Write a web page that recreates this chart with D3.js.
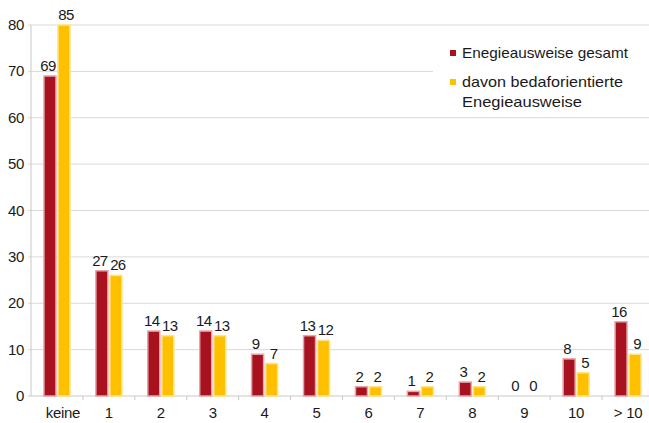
<!DOCTYPE html>
<html>
<head>
<meta charset="utf-8">
<script src="https://cdn.jsdelivr.net/npm/d3@7"></script>
<style>
  body { margin: 0; background: #fff; }
  svg text { font-family: "Liberation Sans", Arial, sans-serif; fill: #1a1a1a; }
</style>
</head>
<body>
<div id="vis"></div>
<script>

var categories = ['keine', '1', '2', '3', '4', '5', '6', '7', '8', '9', '10', '> 10'];
var gesamt = [69, 27, 14, 14, 9, 13, 2, 1, 3, 0, 8, 16];
var bedarf = [85, 26, 13, 13, 7, 12, 2, 2, 2, 0, 5, 9];
var yTicks = [0, 10, 20, 30, 40, 50, 60, 70, 80];
var seriesNames = ['Enegieausweise gesamt', 'davon bedaforientierte Enegieausweise'];

var width = 649, height = 423;
var margin = { top: 25, left: 31, bottom: 27 };
var yMax = 80;

var svg = d3.select('#vis').append('svg')
  .attr('width', width)
  .attr('height', height);

var x = d3.scaleBand()
  .domain(categories)
  .range([margin.left, 654]);

var y = d3.scaleLinear()
  .domain([0, yMax])
  .range([height - margin.bottom, margin.top]);

var series = [
  { name: seriesNames[0], values: gesamt, fill: '#a8121f', stroke: '#e6a3a8', offset: -13, labelShift: -2 },
  { name: seriesNames[1], values: bedarf, fill: '#ffc000', stroke: '#ffe38a', offset: 1, labelShift: 2 }
];
var barW = 12;

// gridlines
svg.append('g')
  .selectAll('line')
  .data(yTicks.filter(function (d) { return d > 0; }))
  .enter().append('line')
  .attr('x1', margin.left - 3)
  .attr('x2', width)
  .attr('y1', function (d) { return y(d); })
  .attr('y2', function (d) { return y(d); })
  .attr('stroke', '#d9d9d9')
  .attr('stroke-width', 1);

// y axis labels
svg.append('g')
  .selectAll('text')
  .data(yTicks)
  .enter().append('text')
  .attr('x', margin.left - 7)
  .attr('y', function (d) { return y(d) + 5; })
  .attr('text-anchor', 'end')
  .style('font-size', '15px')
  .style('letter-spacing', '-0.4px')
  .text(function (d) { return d; });

// axis lines
svg.append('line')
  .attr('x1', margin.left).attr('x2', margin.left)
  .attr('y1', y(yMax)).attr('y2', y(0))
  .attr('stroke', '#c8c8c8');
svg.append('line')
  .attr('x1', margin.left - 3).attr('x2', width)
  .attr('y1', y(0)).attr('y2', y(0))
  .attr('stroke', '#c8c8c8');

// x tick marks between categories
svg.append('g')
  .selectAll('line')
  .data(categories.slice(1))
  .enter().append('line')
  .attr('x1', function (d) { return x(d); })
  .attr('x2', function (d) { return x(d); })
  .attr('y1', y(0))
  .attr('y2', y(0) + 4)
  .attr('stroke', '#c8c8c8');

// x labels
svg.append('g')
  .selectAll('text')
  .data(categories)
  .enter().append('text')
  .attr('x', function (d) { return x(d) + x.bandwidth() / 2; })
  .attr('dx', function (d, i) { return i === 0 ? 6 : 0; })
  .attr('y', height - 5)
  .attr('text-anchor', 'middle')
  .style('font-size', '15px')
  .style('letter-spacing', '-0.3px')
  .text(function (d) { return d; });

// bars + value labels
series.forEach(function (s) {
  var g = svg.append('g');
  var cx = function (i) { return x(categories[i]) + x.bandwidth() / 2 + s.offset; };

  g.selectAll('rect')
    .data(s.values)
    .enter().append('rect')
    .attr('x', function (d, i) { return cx(i); })
    .attr('y', function (d) { return y(Math.min(d, yMax)); })
    .attr('width', barW)
    .attr('height', function (d) { return y(0) - y(Math.min(d, yMax)); })
    .attr('fill', s.fill)
    .attr('stroke', s.stroke)
    .attr('stroke-width', 1.5)
    .style('display', function (d) { return d > 0 ? null : 'none'; });

  g.selectAll('text')
    .data(s.values)
    .enter().append('text')
    .attr('x', function (d, i) { return cx(i) + barW / 2 + s.labelShift; })
    .attr('y', function (d) { return y(Math.min(d, yMax)) - 5; })
    .attr('text-anchor', 'middle')
    .style('font-size', '15px')
    .style('letter-spacing', '-0.6px')
    .text(function (d) { return d; });
});

// legend
var legend = svg.append('g');
legend.append('rect')
  .attr('x', 433).attr('y', 30)
  .attr('width', width - 433).attr('height', 83)
  .attr('fill', '#fff');

var legendLines = [
  { text: 'Enegieausweise gesamt', y: 58, len: 166, marker: series[0].fill },
  { text: 'davon bedaforientierte', y: 87, len: 161, marker: series[1].fill },
  { text: 'Enegieausweise', y: 107, len: 120, marker: null }
];
legendLines.forEach(function (l) {
  if (l.marker) {
    legend.append('rect')
      .attr('x', 450).attr('y', l.y - 8)
      .attr('width', 6).attr('height', 6)
      .attr('fill', l.marker);
  }
  legend.append('text')
    .attr('x', 462)
    .attr('y', l.y)
    .attr('textLength', l.len)
    .attr('lengthAdjust', 'spacingAndGlyphs')
    .style('font-size', '15px')
    .text(l.text);
});

</script>
</body>
</html>
